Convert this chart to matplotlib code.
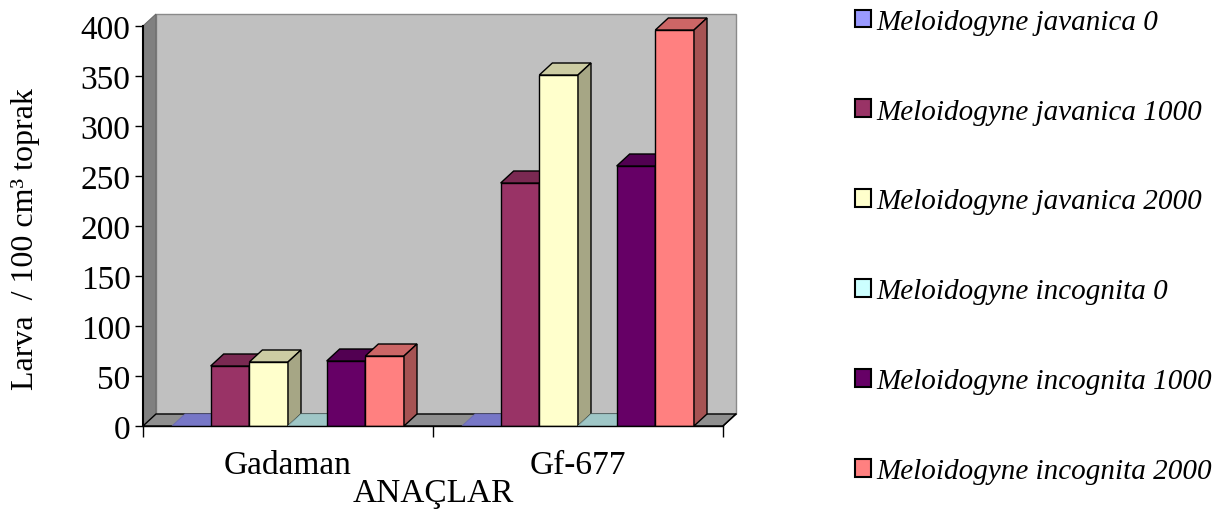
import matplotlib
matplotlib.use("Agg")
import matplotlib.pyplot as plt
from matplotlib.patches import Polygon, Patch
from matplotlib.colors import to_rgb

plt.rcParams["font.family"] = ["Liberation Serif", "DejaVu Serif"]

categories = ["Gadaman", "Gf-677"]
series = [
    "Meloidogyne javanica 0",
    "Meloidogyne javanica 1000",
    "Meloidogyne javanica 2000",
    "Meloidogyne incognita 0",
    "Meloidogyne incognita 1000",
    "Meloidogyne incognita 2000",
]
gadaman = [0, 60, 64, 0, 65, 70]
gf677 = [0, 243, 351, 0, 260, 396]
colors = ["#9999FF", "#993366", "#FFFFCC", "#CCFFFF", "#660066", "#FF8080"]
yticks = [0, 50, 100, 150, 200, 250, 300, 350, 400]


def shade(c, k):
    r, g, b = to_rgb(c)
    return (r * k, g * k, b * k)


fig = plt.figure(figsize=(12.32, 5.1), dpi=100)
ax = fig.add_axes([143 / 1232, 83 / 510, 580 / 1232, 400 / 510])
ax.set_xlim(0, 2)
ax.set_ylim(0, 400)

# depth offsets (data units)
ddx = 13 / 290
ddy = 12

# walls and floor
ax.add_patch(Polygon([(ddx, ddy), (2 + ddx, ddy), (2 + ddx, 400 + ddy), (ddx, 400 + ddy)],
                     closed=True, fc="#C0C0C0", ec="#8a8a8a", lw=1, clip_on=False, zorder=0))
ax.add_patch(Polygon([(0, 0), (ddx, ddy), (ddx, 400 + ddy), (0, 400)],
                     closed=True, fc="#808080", ec="#6a6a6a", lw=0.8, clip_on=False, zorder=0))
ax.add_patch(Polygon([(0, 0), (2, 0), (2 + ddx, ddy), (ddx, ddy)],
                     closed=True, fc="#8f8f8f", ec="black", lw=1, clip_on=False, zorder=0))

w = 1 / 7.5
data = [gadaman, gf677]
z = 2
for i, vals in enumerate(data):
    for j, v in enumerate(vals):
        left = i + 0.5 - 3 * w + j * w
        c = colors[j]
        if v > 0:
            ax.bar(left, v, width=w, align="edge", color=c, edgecolor="black",
                   linewidth=1, zorder=z)
        top = [(left, v), (left + w, v), (left + w + ddx, v + ddy), (left + ddx, v + ddy)]
        ax.add_patch(Polygon(top, closed=True, fc=shade(c, 0.8 if v > 0 else 0.78),
                             ec="black" if v > 0 else shade(c, 0.7), lw=1 if v > 0 else 0.6,
                             clip_on=False, zorder=z))
        if v > 0:
            side = [(left + w, 0), (left + w + ddx, ddy), (left + w + ddx, v + ddy), (left + w, v)]
            ax.add_patch(Polygon(side, closed=True, fc=shade(c, 0.65), ec="black",
                                 lw=1, clip_on=False, zorder=z))
        z += 1

# front-right floor edge
ax.plot([2, 2 + ddx], [0, ddy], color="black", lw=1, clip_on=False, zorder=50)

for s in ["top", "right"]:
    ax.spines[s].set_visible(False)
ax.spines["left"].set_linewidth(1.5)
ax.spines["bottom"].set_linewidth(1)
ax.spines["left"].set_zorder(60)
ax.spines["bottom"].set_zorder(60)

ax.set_yticks(yticks)
ax.tick_params(axis="y", labelsize=24, length=6, width=1, pad=3)
ax.set_xticks([0.5, 1.5])
ax.set_xticklabels(categories)
ax.set_xticks([0, 1, 2], minor=True)
ax.tick_params(axis="x", which="major", length=0, labelsize=24, pad=17)
ax.tick_params(axis="x", which="minor", length=8, width=1, direction="out")
ax.set_xlabel("ANAÇLAR", fontsize=24, labelpad=-2)
ax.set_ylabel("Larva  / 100 cm³ toprak", fontsize=23, labelpad=29)
ax.yaxis.label.set_y(0.47)

handles = [Patch(fc=c, ec="black", lw=1.5) for c in colors]
fig.legend(handles, series, loc="upper left", bbox_to_anchor=(843 / 1232, 1.0 + 2 / 510),
           frameon=False, prop={"style": "italic", "size": 21}, handlelength=0.55,
           handleheight=0.55, handletextpad=0.2, labelspacing=2.19, borderaxespad=0.0)

fig.savefig("out.png", dpi=100)
